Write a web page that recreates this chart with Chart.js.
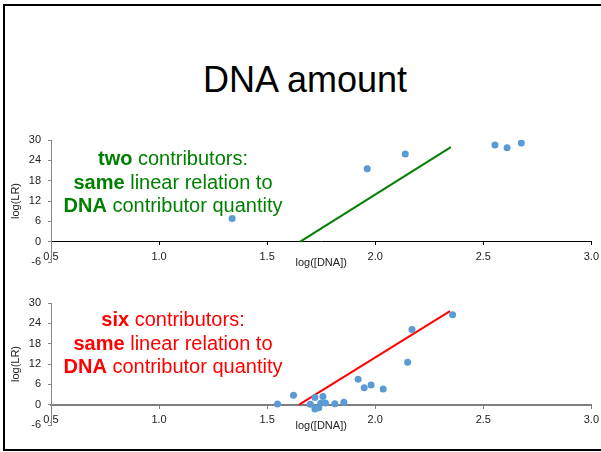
<!DOCTYPE html>
<html>
<head>
<meta charset="utf-8">
<script src="https://cdn.jsdelivr.net/npm/chart.js"></script>
<style>
  body { margin: 0; background: #fff; font-family: "Liberation Sans", Arial, sans-serif; }
  #slide { position: relative; width: 601px; height: 452px; overflow: hidden; }
  #frame { position: absolute; left: 3px; top: 4px; width: 620px; height: 443px; border: 2px solid #000; }
  #title { position: absolute; left: 0; top: 62px; width: 610px; text-align: center; font-size: 36px; line-height: 36px; color: #000; }
  .note { position: absolute; left: 23px; width: 300px; text-align: center; font-size: 20px; line-height: 23.5px; }
  .note b { font-weight: bold; }
  canvas { position: absolute; left: 0; }
</style>
</head>
<body>
<div id="slide">
  <div id="frame"></div>
  <div id="title">DNA amount</div>
  <canvas id="chartTwo" width="605" height="162" style="top:120px"></canvas>
  <canvas id="chartSix" width="605" height="162" style="top:283px"></canvas>
  <div class="note" style="top:147px; color:#008000"><b>two</b> contributors:<br><b>same</b> linear relation to<br><b>DNA</b> contributor quantity</div>
  <div class="note" style="top:308px; color:#ff0000"><b>six</b> contributors:<br><b>same</b> linear relation to<br><b>DNA</b> contributor quantity</div>
</div>
<script>
// two contributors
var twoX = [1.338, 1.963, 2.139, 2.554, 2.610, 2.676];
var twoY = [6.8, 21.5, 25.9, 28.5, 27.7, 29.1];
var twoLineX = [1.653, 2.350];
var twoLineY = [0, 27.9];

// six contributors
var sixX = [1.548, 1.622, 1.700, 1.721, 1.721, 1.739, 1.748, 1.758, 1.770, 1.813, 1.855, 1.921, 1.949, 1.981, 2.037, 2.150, 2.170, 2.358];
var sixY = [0.2, 2.8, 0.1, 2.1, -1.3, -0.9, 0.4, 2.4, 0.5, 0.3, 0.7, 7.5, 5.0, 5.8, 4.6, 12.5, 22.2, 26.5];
var sixLineX = [1.648, 2.346];
var sixLineY = [0, 27.6];

// axes
var xTicks = [0.5, 1.0, 1.5, 2.0, 2.5, 3.0];
var yTicks = [-6, 0, 6, 12, 18, 24, 30];

var FONT = "'Liberation Sans', Arial, sans-serif";

function toPoints(xs, ys) {
    return xs.map(function (x, i) { return { x: x, y: ys[i] }; });
}

function makeChart(id, xs, ys, lx, ly, lineColor, xAxisColor, xAxisWidth) {
    new Chart(document.getElementById(id), {
        type: 'scatter',
        data: {
            datasets: [{
                data: toPoints(xs, ys),
                backgroundColor: '#5b9bd5',
                borderColor: '#5b9bd5',
                borderWidth: 0,
                pointRadius: 3.5,
                order: 1
            }, {
                data: toPoints(lx, ly),
                showLine: true,
                borderColor: lineColor,
                borderWidth: 2,
                pointRadius: 0,
                order: 2
            }]
        },
        options: {
            responsive: false,
            animation: false,
            devicePixelRatio: 1,
            layout: { padding: { left: 5, right: 10, top: 20, bottom: 20 } },
            plugins: { legend: { display: false }, tooltip: { enabled: false } },
            scales: {
                x: {
                    type: 'linear',
                    position: { y: 0 },
                    min: xTicks[0],
                    max: xTicks[xTicks.length - 1],
                    afterBuildTicks: function (scale) {
                        scale.ticks = xTicks.map(function (v) { return { value: v }; });
                    },
                    afterFit: function (scale) { scale.height = 32; },
                    border: { display: true, color: xAxisColor, width: xAxisWidth },
                    grid: { display: true, drawOnChartArea: false, drawTicks: true, tickLength: 3, color: xAxisColor },
                    ticks: {
                        padding: 6,
                        color: '#222',
                        font: { family: FONT, size: 11 },
                        maxRotation: 0,
                        callback: function (v) { return v.toFixed(1); }
                    },
                    title: { display: true, text: 'log([DNA])', color: '#222', font: { family: FONT, size: 11 }, padding: 4 }
                },
                y: {
                    type: 'linear',
                    position: 'left',
                    min: yTicks[0],
                    max: yTicks[yTicks.length - 1],
                    afterBuildTicks: function (scale) {
                        scale.ticks = yTicks.map(function (v) { return { value: v }; });
                    },
                    afterFit: function (scale) { scale.width = 46; },
                    border: { display: true, color: '#868686', width: 1 },
                    grid: { display: true, drawOnChartArea: false, drawTicks: true, tickLength: 3, color: '#868686' },
                    ticks: { padding: 7, color: '#222', font: { family: FONT, size: 11 } },
                    title: { display: true, text: 'log(LR)', color: '#222', font: { family: FONT, size: 11 }, padding: 4 }
                }
            }
        }
    });
}

makeChart('chartTwo', twoX, twoY, twoLineX, twoLineY, '#008000', '#000000', 1);
makeChart('chartSix', sixX, sixY, sixLineX, sixLineY, '#ff0000', '#7f7f7f', 2);
</script>
</body>
</html>
